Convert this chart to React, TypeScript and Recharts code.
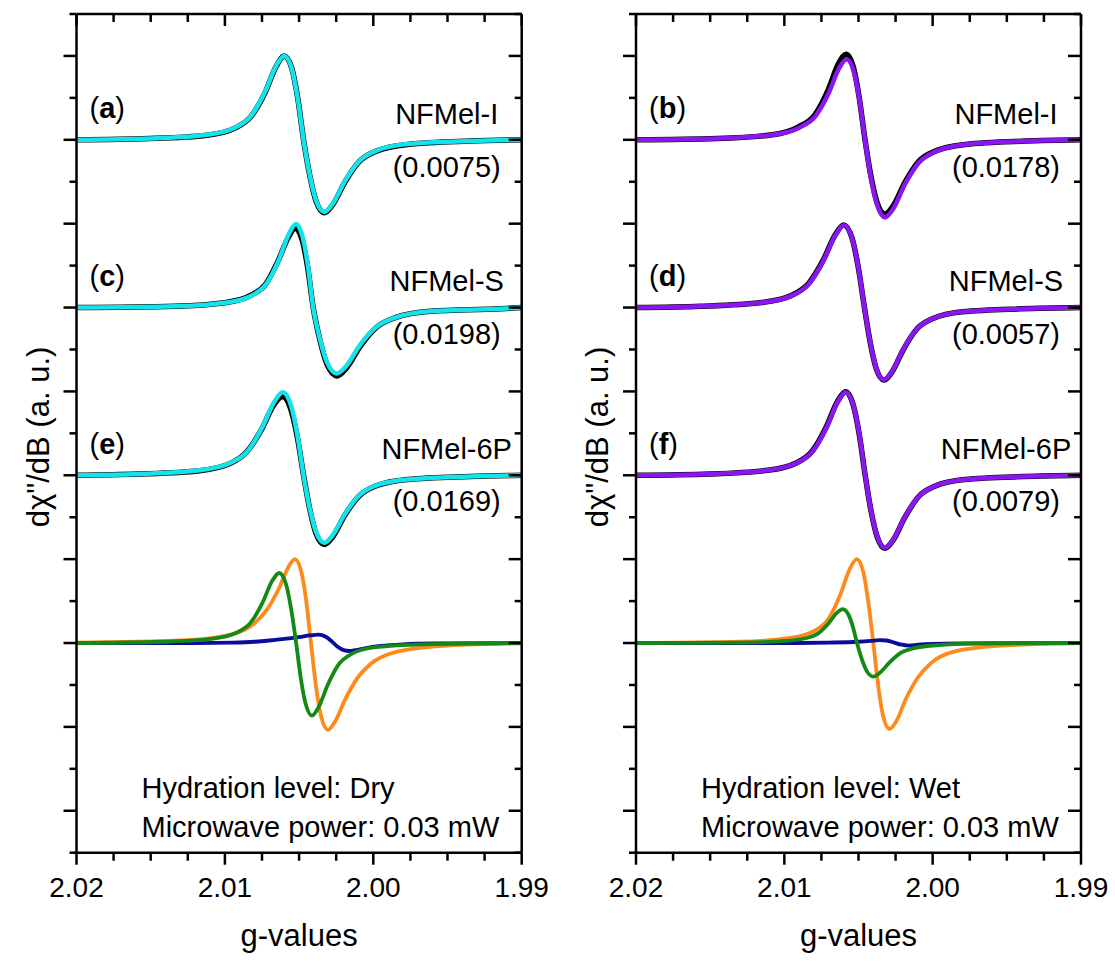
import { LineChart, Line, XAxis, YAxis } from 'recharts';

type Pt = [number, number];

// g-value axis (reversed, 2.02 on the left)
const xMajorTicks = [2.02, 2.01, 2.0, 1.99];
const xTickLabels = ['2.02', '2.01', '2.00', '1.99'];
const xMinorTicks = [2.0175, 2.015, 2.0125, 2.0075, 2.005, 2.0025, 1.9975, 1.995, 1.9925];
const yTicks = [0, 1, 2, 3, 4, 5, 6, 7, 8, 9, 10, 11, 12, 13, 14, 15, 16, 17, 18, 19, 20];
const yMajorTicks = [1, 3, 5, 7, 9, 11, 13, 15, 17, 19];

// ---- Dry (left) ----
const dryIExp: Pt[] = [[2.02, 17.0], [2.0151, 17.03], [2.0112, 17.11], [2.00925, 17.29], [2.00821, 17.57], [2.0073, 18.12], [2.00652, 18.77], [2.006, 19.0], [2.00548, 18.69], [2.00509, 17.99], [2.0047, 17.0], [2.00428, 16.15], [2.00386, 15.54], [2.0033, 15.26], [2.00274, 15.45], [2.0019, 16.0], [2.00092, 16.49], [1.9998, 16.73], [1.9977, 16.89], [1.9935, 16.97], [1.99, 17.0]];
const dryIFit: Pt[] = [[2.02, 17.0], [2.0151, 17.03], [2.0112, 17.12], [2.00925, 17.3], [2.00821, 17.58], [2.0073, 18.14], [2.00652, 18.78], [2.006, 19.0], [2.00548, 18.68], [2.00509, 17.98], [2.0047, 17.0], [2.00428, 16.16], [2.00386, 15.56], [2.0033, 15.28], [2.00274, 15.47], [2.0019, 16.02], [2.00092, 16.5], [1.9998, 16.74], [1.9977, 16.9], [1.9935, 16.97], [1.99, 17.0]];
const drySExp: Pt[] = [[2.02, 13.0], [2.0134, 13.03], [2.0099, 13.12], [2.0082, 13.3], [2.00725, 13.56], [2.00643, 14.1], [2.00572, 14.68], [2.00525, 14.89], [2.00478, 14.59], [2.00442, 13.95], [2.00405, 13.0], [2.00358, 12.2], [2.0031, 11.63], [2.00245, 11.37], [2.00182, 11.55], [2.00087, 12.08], [1.99978, 12.53], [1.99852, 12.76], [1.99615, 12.91], [1.99141, 12.97], [1.99, 13.0]];
const drySFit: Pt[] = [[2.02, 13.0], [2.01333, 13.03], [2.00985, 13.12], [2.00811, 13.3], [2.00718, 13.58], [2.00637, 14.13], [2.00567, 14.77], [2.00521, 14.99], [2.00475, 14.67], [2.0044, 13.98], [2.00405, 13.0], [2.00358, 12.23], [2.0031, 11.68], [2.00247, 11.43], [2.00184, 11.6], [2.00089, 12.11], [1.99978, 12.54], [1.99852, 12.76], [1.99615, 12.91], [1.99141, 12.97], [1.99, 13.0]];
const dry6PExp: Pt[] = [[2.02, 9.0], [2.0159, 9.03], [2.0117, 9.11], [2.0096, 9.29], [2.00852, 9.56], [2.00754, 10.09], [2.0067, 10.68], [2.00612, 10.88], [2.00556, 10.58], [2.00513, 9.93], [2.0047, 9.0], [2.00428, 8.19], [2.00386, 7.61], [2.0033, 7.35], [2.00274, 7.53], [2.0019, 8.06], [2.00092, 8.52], [1.9998, 8.75], [1.9977, 8.9], [1.9935, 8.97], [1.99, 9.0]];
const dry6PFit: Pt[] = [[2.02, 9.0], [2.0159, 9.03], [2.0117, 9.12], [2.0096, 9.3], [2.00848, 9.57], [2.0075, 10.13], [2.00666, 10.76], [2.0061, 10.98], [2.00554, 10.66], [2.00512, 9.97], [2.0047, 9.0], [2.00428, 8.21], [2.00386, 7.65], [2.0033, 7.39], [2.00274, 7.57], [2.0019, 8.08], [2.00092, 8.53], [1.9998, 8.76], [1.9977, 8.9], [1.9935, 8.97], [1.99, 9.0]];
const dryOrange: Pt[] = [[2.02, 5.01], [2.01284, 5.06], [2.0096, 5.2], [2.00798, 5.48], [2.00712, 5.82], [2.00636, 6.3], [2.00571, 6.82], [2.00528, 7.0], [2.00485, 6.7], [2.00452, 6.0], [2.0042, 5.0], [2.00386, 3.97], [2.00351, 3.24], [2.00305, 2.93], [2.00259, 3.12], [2.0019, 3.65], [2.0011, 4.15], [2.00018, 4.5], [1.99845, 4.79], [1.995, 4.94], [1.99, 4.99]];
const dryGreen: Pt[] = [[2.02, 5.0], [2.01432, 5.03], [2.0109, 5.1], [2.00919, 5.25], [2.00828, 5.48], [2.00748, 5.95], [2.0068, 6.49], [2.00634, 6.67], [2.00588, 6.4], [2.00554, 5.82], [2.0052, 5.0], [2.00488, 4.15], [2.00456, 3.55], [2.00413, 3.27], [2.0037, 3.46], [2.00306, 4.01], [2.00231, 4.5], [2.00146, 4.74], [1.99985, 4.9], [1.99664, 4.97], [1.99, 5.0]];
const dryBlue: Pt[] = [[2.02, 5.0], [2.012, 5.0], [2.0095, 5.01], [2.008, 5.03], [2.007, 5.06], [2.006, 5.1], [2.005, 5.14], [2.0043, 5.18], [2.0037, 5.2], [2.0032, 5.15], [2.0028, 5.04], [2.0024, 4.91], [2.002, 4.83], [2.0016, 4.81], [2.0012, 4.83], [2.0005, 4.88], [1.9995, 4.93], [1.998, 4.97], [1.996, 4.99], [1.99, 5.0]];

// ---- Wet (right) ----
const wetIExp: Pt[] = [[2.02, 17.0], [2.01452, 17.03], [2.0108, 17.12], [2.00904, 17.31], [2.00795, 17.59], [2.00708, 18.16], [2.00634, 18.82], [2.00584, 19.04], [2.00533, 18.71], [2.00495, 18.0], [2.00456, 17.0], [2.00416, 16.13], [2.00375, 15.51], [2.00321, 15.23], [2.00267, 15.42], [2.00186, 15.99], [2.00092, 16.49], [1.99983, 16.73], [1.99781, 16.89], [1.99376, 16.97], [1.99, 17.0]];
const wetIFit: Pt[] = [[2.02, 17.0], [2.01448, 17.03], [2.01076, 17.12], [2.009, 17.29], [2.00791, 17.56], [2.00704, 18.09], [2.0063, 18.71], [2.0058, 18.92], [2.0053, 18.61], [2.00493, 17.94], [2.00456, 17.0], [2.00416, 16.09], [2.00375, 15.45], [2.00321, 15.15], [2.00267, 15.35], [2.00186, 15.95], [2.00092, 16.46], [1.99983, 16.72], [1.99781, 16.89], [1.99376, 16.97], [1.99, 17.0]];
const wetSExp: Pt[] = [[2.02, 13.0], [2.01566, 13.03], [2.01152, 13.12], [2.00945, 13.3], [2.00835, 13.58], [2.00738, 14.13], [2.00655, 14.75], [2.006, 14.97], [2.00544, 14.66], [2.00502, 13.97], [2.0046, 13.0], [2.0042, 12.15], [2.00381, 11.55], [2.00328, 11.27], [2.00275, 11.46], [2.00196, 12.01], [2.00104, 12.5], [1.99998, 12.74], [1.998, 12.9], [1.99404, 12.97], [1.99, 13.0]];
const wetSFit: Pt[] = [[2.02, 13.0], [2.01564, 13.03], [2.0115, 13.12], [2.00943, 13.29], [2.00833, 13.57], [2.00736, 14.12], [2.00653, 14.74], [2.00598, 14.96], [2.00543, 14.65], [2.00501, 13.96], [2.0046, 13.0], [2.0042, 12.16], [2.00381, 11.56], [2.00328, 11.28], [2.00275, 11.47], [2.00196, 12.02], [2.00104, 12.5], [1.99998, 12.74], [1.998, 12.9], [1.99404, 12.97], [1.99, 13.0]];
const wet6PExp: Pt[] = [[2.02, 9.0], [2.01505, 9.03], [2.01112, 9.12], [2.00916, 9.3], [2.00811, 9.58], [2.00719, 10.14], [2.0064, 10.77], [2.00587, 10.99], [2.00535, 10.67], [2.00495, 9.98], [2.00455, 9.0], [2.00415, 8.14], [2.00375, 7.54], [2.00321, 7.26], [2.00267, 7.45], [2.00187, 8.0], [2.00093, 8.5], [1.99986, 8.74], [1.99785, 8.9], [1.99383, 8.97], [1.99, 9.0]];
const wet6PFit: Pt[] = [[2.02, 9.0], [2.01503, 9.03], [2.0111, 9.12], [2.00914, 9.3], [2.00809, 9.57], [2.00717, 10.13], [2.00638, 10.76], [2.00586, 10.98], [2.00534, 10.66], [2.00494, 9.97], [2.00455, 9.0], [2.00415, 8.15], [2.00375, 7.55], [2.00321, 7.27], [2.00267, 7.46], [2.00187, 8.01], [2.00093, 8.5], [1.99986, 8.74], [1.99785, 8.9], [1.99383, 8.97], [1.99, 9.0]];
const wetOrange: Pt[] = [[2.02, 5.0], [2.01296, 5.03], [2.0096, 5.12], [2.00792, 5.3], [2.00702, 5.58], [2.00624, 6.14], [2.00557, 6.78], [2.00512, 7.0], [2.00467, 6.68], [2.00434, 5.98], [2.004, 5.0], [2.00367, 3.98], [2.00334, 3.26], [2.0029, 2.95], [2.00246, 3.13], [2.0018, 3.67], [2.00103, 4.16], [2.00015, 4.51], [1.9985, 4.8], [1.9952, 4.94], [1.99, 5.0]];
const wetGreen: Pt[] = [[2.02, 5.0], [2.01286, 5.01], [2.00995, 5.05], [2.0085, 5.12], [2.00772, 5.23], [2.00704, 5.46], [2.00646, 5.72], [2.00607, 5.81], [2.00568, 5.68], [2.00539, 5.4], [2.0051, 5.0], [2.00477, 4.61], [2.00444, 4.33], [2.004, 4.2], [2.00356, 4.29], [2.0029, 4.54], [2.00213, 4.77], [2.00125, 4.88], [1.9996, 4.95], [1.9963, 4.99], [1.99, 5.0]];
const wetBlue: Pt[] = [[2.02, 5.0], [2.01, 5.0], [2.007, 5.01], [2.005, 5.03], [2.0042, 5.05], [2.0036, 5.07], [2.0031, 5.06], [2.0026, 5.01], [2.0021, 4.96], [2.0016, 4.94], [2.001, 4.96], [2.0, 4.98], [1.998, 4.99], [1.99, 5.0]];

const sampleNames = ['NFMel-I', 'NFMel-S', 'NFMel-6P'];
const dryLetters = ['a', 'c', 'e'];
const wetLetters = ['b', 'd', 'f'];
const dryValues = ['(0.0075)', '(0.0198)', '(0.0169)'];
const wetValues = ['(0.0178)', '(0.0057)', '(0.0079)'];

const FONT = '"Liberation Sans", Arial, sans-serif';
const CYAN = '#14E3EB';
const VIOLET = '#8A17F2';
const ORANGE = '#FF8A1C';
const GREEN = '#158915';
const NAVY = '#0B0B9C';

const toRows = (pts: Pt[]) => pts.map(([g, v]) => ({ g, v }));
const isMajorX = (v: number) => xMajorTicks.findIndex(m => Math.abs(m - v) < 1e-7);

const BottomTick = (props: any) => {
  const { x, y, payload } = props;
  const i = isMajorX(payload.value);
  return (
    <g>
      <line x1={x} x2={x} y1={y} y2={y + (i >= 0 ? 12 : 8)} stroke="#000" strokeWidth={2.5} />
      {i >= 0 && (
        <text x={x} y={y + 44} textAnchor="middle" fontSize={28} fontFamily={FONT} fill="#000">
          {xTickLabels[i]}
        </text>
      )}
    </g>
  );
};

const TopTick = (props: any) => {
  const { x, y, payload } = props;
  const major = isMajorX(payload.value) >= 0;
  return <line x1={x} x2={x} y1={y} y2={y + (major ? 12 : 8)} stroke="#000" strokeWidth={2.5} />;
};

const LeftTick = (props: any) => {
  const { x, y, payload } = props;
  const major = yMajorTicks.includes(payload.value);
  return <line x1={x - (major ? 13 : 7)} x2={x} y1={y} y2={y} stroke="#000" strokeWidth={2.5} />;
};

const RightTick = (props: any) => {
  const { x, y, payload } = props;
  const major = yMajorTicks.includes(payload.value);
  return <line x1={x - (major ? 13 : 7)} x2={x} y1={y} y2={y} stroke="#000" strokeWidth={2.5} />;
};

interface Series {
  data: Pt[];
  color: string;
  width: number;
}

interface PanelProps {
  width: number;
  marginLeft: number;
  marginRight: number;
  series: Series[];
}

const axisLine = { stroke: '#000', strokeWidth: 2.5 };
const allXTicks = [...xMajorTicks, ...xMinorTicks].sort((a, b) => b - a);

// axes are 1px thick boxes so they get drawn; margins are reduced by that 1px
function Panel({ width, marginLeft, marginRight, series }: PanelProps) {
  return (
    <LineChart
      width={width}
      height={963}
      margin={{ top: 13, right: marginRight - 1, bottom: 109.3, left: marginLeft - 1 }}
    >
      <XAxis
        xAxisId="b"
        dataKey="g"
        type="number"
        domain={[1.99, 2.02]}
        reversed
        allowDataOverflow
        ticks={allXTicks}
        interval={0}
        height={1}
        tickSize={0}
        tickMargin={0}
        tickLine={false}
        axisLine={axisLine}
        tick={BottomTick}
      />
      <XAxis
        xAxisId="t"
        orientation="top"
        dataKey="g"
        type="number"
        domain={[1.99, 2.02]}
        reversed
        allowDataOverflow
        ticks={allXTicks}
        interval={0}
        height={1}
        tickSize={0}
        tickMargin={0}
        tickLine={false}
        axisLine={axisLine}
        tick={TopTick}
      />
      <YAxis
        yAxisId="l"
        type="number"
        domain={[0, 20]}
        allowDataOverflow
        ticks={yTicks}
        interval={0}
        width={1}
        tickSize={0}
        tickMargin={0}
        tickLine={false}
        axisLine={axisLine}
        tick={LeftTick}
      />
      <YAxis
        yAxisId="r"
        orientation="right"
        type="number"
        domain={[0, 20]}
        allowDataOverflow
        ticks={yTicks}
        interval={0}
        width={1}
        tickSize={0}
        tickMargin={0}
        tickLine={false}
        axisLine={axisLine}
        tick={RightTick}
      />
      {series.map((s, i) => (
        <Line
          key={i}
          xAxisId="b"
          yAxisId="l"
          data={toRows(s.data)}
          dataKey="v"
          type="monotone"
          stroke={s.color}
          strokeWidth={s.width}
          dot={false}
          activeDot={false}
          isAnimationActive={false}
        />
      ))}
    </LineChart>
  );
}

const drySeries: Series[] = [
  { data: dryIExp, color: '#000', width: 5.5 },
  { data: dryIFit, color: CYAN, width: 4.5 },
  { data: drySExp, color: '#000', width: 5.5 },
  { data: drySFit, color: CYAN, width: 4.5 },
  { data: dry6PExp, color: '#000', width: 5.5 },
  { data: dry6PFit, color: CYAN, width: 4.5 },
  { data: dryOrange, color: ORANGE, width: 3.8 },
  { data: dryBlue, color: NAVY, width: 3.8 },
  { data: dryGreen, color: GREEN, width: 3.8 },
];

const wetSeries: Series[] = [
  { data: wetIExp, color: '#000', width: 5.5 },
  { data: wetIFit, color: VIOLET, width: 4.5 },
  { data: wetSExp, color: '#000', width: 5.5 },
  { data: wetSFit, color: VIOLET, width: 4.5 },
  { data: wet6PExp, color: '#000', width: 5.5 },
  { data: wet6PFit, color: VIOLET, width: 4.5 },
  { data: wetOrange, color: ORANGE, width: 3.8 },
  { data: wetBlue, color: NAVY, width: 3.8 },
  { data: wetGreen, color: GREEN, width: 3.8 },
];

function PanelText({ axisLeft, axisRight, letters, values, hydration }: {
  axisLeft: number; axisRight: number; letters: string[]; values: string[]; hydration: string;
}) {
  const nameX = axisRight - 75;
  const txt = { fontFamily: FONT, fontSize: 29, fill: '#000' };
  const yLabelX = axisLeft - 28;
  return (
    <g>
      {letters.map((l, i) => (
        <text key={l} x={axisLeft + 13} y={117.5 + i * 168.3} {...txt}>
          (<tspan fontWeight="bold">{l}</tspan>)
        </text>
      ))}
      {sampleNames.map((n, i) => (
        <text key={n} x={nameX} y={123.5 + i * 167.5} textAnchor="middle" {...txt}>{n}</text>
      ))}
      {values.map((v, i) => (
        <text key={v} x={nameX} y={177 + i * 167} textAnchor="middle" {...txt}>{v}</text>
      ))}
      <text x={axisLeft + 65} y={797.5} {...txt}>Hydration level: {hydration}</text>
      <text x={axisLeft + 65} y={836.7} {...txt}>Microwave power: 0.03 mW</text>
      <text x={(axisLeft + axisRight) / 2} y={946} textAnchor="middle" fontFamily={FONT} fontSize={31} fill="#000">
        g-values
      </text>
      <text
        x={yLabelX}
        y={437}
        textAnchor="middle"
        fontFamily={FONT}
        fontSize={31}
        fill="#000"
        transform={`rotate(-90 ${yLabelX} 437)`}
      >
        dχ"/dB (a. u.)
      </text>
    </g>
  );
}

export default function App() {
  return (
    <div style={{ position: 'absolute', left: 0, top: 0, width: 1115, height: 963, background: '#fff' }}>
      <div style={{ position: 'absolute', left: 0, top: 0 }}>
        <Panel width={560} marginLeft={76.5} marginRight={38.3} series={drySeries} />
      </div>
      <div style={{ position: 'absolute', left: 560, top: 0 }}>
        <Panel width={555} marginLeft={76} marginRight={34} series={wetSeries} />
      </div>
      <svg
        width={1115}
        height={963}
        style={{ position: 'absolute', left: 0, top: 0, pointerEvents: 'none' }}
      >
        <PanelText axisLeft={76.5} axisRight={521.7} letters={dryLetters} values={dryValues} hydration="Dry" />
        <PanelText axisLeft={636} axisRight={1081} letters={wetLetters} values={wetValues} hydration="Wet" />
      </svg>
    </div>
  );
}
